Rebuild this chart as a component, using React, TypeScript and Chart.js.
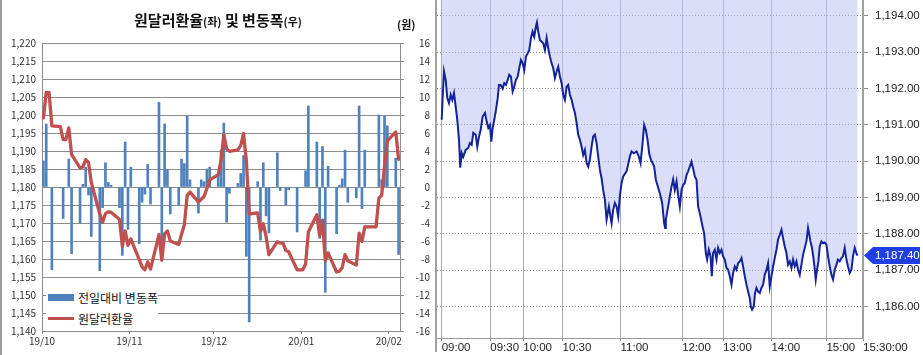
import React, { useEffect, useRef } from 'react';
import { Chart, registerables } from 'chart.js';
Chart.register(...registerables);

// ---------- left panel data (daily, weekdays incl. market holidays) ----------
const dates = [
  '2019-10-01','2019-10-02','2019-10-03','2019-10-04','2019-10-07','2019-10-08','2019-10-09','2019-10-10','2019-10-11','2019-10-14','2019-10-15','2019-10-16','2019-10-17','2019-10-18','2019-10-21','2019-10-22','2019-10-23','2019-10-24','2019-10-25','2019-10-28','2019-10-29','2019-10-30','2019-10-31',
  '2019-11-01','2019-11-04','2019-11-05','2019-11-06','2019-11-07','2019-11-08','2019-11-11','2019-11-12','2019-11-13','2019-11-14','2019-11-15','2019-11-18','2019-11-19','2019-11-20','2019-11-21','2019-11-22','2019-11-25','2019-11-26','2019-11-27','2019-11-28','2019-11-29',
  '2019-12-02','2019-12-03','2019-12-04','2019-12-05','2019-12-06','2019-12-09','2019-12-10','2019-12-11','2019-12-12','2019-12-13','2019-12-16','2019-12-17','2019-12-18','2019-12-19','2019-12-20','2019-12-23','2019-12-24','2019-12-25','2019-12-26','2019-12-27','2019-12-30','2019-12-31',
  '2020-01-01','2020-01-02','2020-01-03','2020-01-06','2020-01-07','2020-01-08','2020-01-09','2020-01-10','2020-01-13','2020-01-14','2020-01-15','2020-01-16','2020-01-17','2020-01-20','2020-01-21','2020-01-22','2020-01-23','2020-01-24','2020-01-27','2020-01-28','2020-01-29','2020-01-30','2020-01-31',
  '2020-02-03','2020-02-04',
];
const rate = [
  1199.2,1206.3,1206.3,1197.0,1196.8,1193.2,1193.2,1196.4,1189.0,1185.3,1185.6,1187.6,1186.8,1181.2,1172.5,1170.2,1172.6,1173.1,1173.0,1171.0,1163.5,1167.8,1163.8,
  1165.6,1159.8,1157.8,1157.0,1159.2,1157.2,1166.8,1159.6,1167.0,1167.8,1165.0,1164.0,1166.9,1169.5,1177.6,1178.6,1175.8,1176.6,1177.4,1179.6,1182.0,
  1183.4,1187.4,1194.5,1190.6,1189.9,1190.3,1191.5,1194.8,1187.3,1172.5,1172.8,1167.6,1169.8,1166.2,1161.2,1164.8,1164.4,1164.4,1162.4,1162.0,1157.0,1157.0,
  1157.0,1158.6,1167.5,1172.3,1166.5,1170.8,1159.5,1161.7,1156.4,1156.6,1157.6,1161.2,1159.5,1158.3,1167.2,1164.9,1168.9,1168.9,1168.9,1176.9,1177.7,1185.8,1192.8,
  1195.3,1187.7,
];
const change = [
  2.9,7.0,null,-9.2,-0.1,-3.5,null,3.1,-7.4,-4.0,0.3,2.2,-0.9,-5.5,-9.3,-2.3,2.7,0.5,0.2,-2.3,-7.6,5.0,-4.7,
  2.2,-6.3,-1.7,-0.8,2.5,-1.9,9.4,-7.9,7.0,1.9,-3.0,-2.0,3.1,2.6,7.9,0.8,-2.9,0.8,0.6,2.0,2.2,
  1.4,4.1,7.1,-3.9,-0.7,0.4,1.5,3.5,-7.7,-15.0,0.6,-5.9,2.7,-3.2,-5.1,3.8,-0.4,null,-2.0,-0.3,-5.0,null,
  null,1.8,9.0,5.0,-5.7,4.5,-11.7,2.3,-5.2,0.2,0.9,4.1,-1.7,-1.2,9.0,-2.4,4.1,null,null,8.0,0.8,7.9,6.8,
  3.2,-7.5,
];
const monthStarts = ['2019-10-01','2019-11-01','2019-12-01','2020-01-01','2020-02-01'];
const monthLabels = ['19/10','19/11','19/12','20/01','20/02'];
const rateTicks = [1140,1145,1150,1155,1160,1165,1170,1175,1180,1185,1190,1195,1200,1205,1210,1215,1220];
const changeTicks = [-16,-14,-12,-10,-8,-6,-4,-2,0,2,4,6,8,10,12,14,16];

// ---------- right panel data (intraday, x = trade sequence position) ----------
const seqNo = [
  0,1,2.3,4,5.6,7.3,9,10.6,12.3,14,15.6,17.3,18.6,20,21.6,24,26.6,28.3,30,31.6,34,35.6,37.3,39,41,43.3,45,46.6,48.3,49.6,
  51,52.6,54.3,56,57.3,59,61,62.6,64.3,66,67.6,69.3,71,72.6,74.3,76,77.6,79.3,81,82.6,84.3,86,87.6,89.3,91,92.6,94.3,95.3,96.6,98.3,
  100,101.6,103.3,105,106.6,108.3,110,111.6,113.3,115,116.6,118.3,120,121.6,123.3,125,126.6,128.3,130,131.6,133.3,135,136.6,138.3,140,141.6,143.3,145,146.6,148.3,
  150,151.6,153.3,155,156.6,158.3,160,161.6,163.3,165,167.3,170,171.6,173.3,175,176.6,178.3,180,181.6,185,188.3,190,192.3,195,197.3,199,
  201,202.6,204.3,206,207.6,209.3,211,212.6,214.3,218.3,220.6,222.6,223.6,224.3,226,228.3,230,231.6,233.3,235,236.6,238.3,240,241.6,243.3,245,246.6,248.3,
  250,251.6,253.3,255,256.6,259,261,262.6,264.3,265.6,267.3,269,270.3,271.6,273.3,275,276.6,278.3,280,281.6,283.3,285,286.6,288.3,290,291.6,293.3,295,296.6,298.3,
  300,301.6,303.3,305,306.6,308.3,309.3,310.6,312.3,313.6,315,316.6,318.3,320,321.6,323.3,325,326.6,328.3,330,331.6,333.3,335,336.6,338.3,340,341.6,343.3,345,346.6,348.3,
  350,351.6,353.3,355,356.6,358.3,360,361.6,363.3,365,366.6,367.6,369,370.3,371.6,373,374.3,375.6,377,378.3,380,381.6,383.3,385,386.6,388.3,390,391.6,393.3,395,396.6,398.3,
  400,401.6,403.3,405,406.6,408.3,410,411.6,413.3,415,416,
];
const price = [
  1191.14,1191.78,1192.47,1192.24,1191.74,1191.60,1191.83,1191.69,1191.88,1191.50,1191.14,1190.59,1189.82,1190.23,1190.12,1190.31,1190.37,1190.50,1190.45,1190.78,1190.73,1190.40,1190.67,1190.86,1191.23,1191.33,1191.09,1190.92,1191.00,1190.54,
  1190.92,1191.14,1191.41,1191.73,1192.10,1192.10,1192.00,1192.15,1192.10,1192.24,1192.38,1192.33,1191.92,1192.05,1192.24,1192.33,1192.56,1192.79,1192.70,1192.51,1192.88,1192.97,1193.06,1193.39,1193.57,1193.43,1193.71,1193.82,1193.57,1193.34,
  1193.29,1193.25,1193.06,1193.39,1193.11,1192.88,1192.70,1192.56,1192.29,1192.47,1192.60,1192.33,1192.15,1191.83,1191.69,1192.05,1192.10,1191.83,1191.69,1191.50,1191.33,1191.06,1190.73,1190.59,1190.40,1190.17,1190.31,1189.95,1189.85,1190.04,
  1190.40,1190.68,1190.73,1190.50,1190.13,1189.76,1189.53,1189.21,1188.94,1188.39,1188.75,1188.29,1188.66,1188.85,1188.75,1188.48,1189.03,1189.40,1189.58,1189.72,1190.13,1190.27,1190.22,1190.27,1190.13,1189.95,
  1190.50,1191.00,1190.86,1190.59,1190.22,1190.04,1189.95,1189.85,1189.49,1189.12,1188.85,1188.29,1188.16,1188.39,1188.66,1189.03,1189.30,1189.50,1189.21,1189.44,1189.07,1188.75,1189.21,1189.35,1189.40,1189.62,1189.72,1189.85,
  1189.99,1189.80,1189.58,1189.49,1188.75,1188.48,1188.20,1188.02,1187.47,1187.29,1187.56,1187.38,1186.83,1187.47,1187.56,1187.29,1187.61,1187.47,1187.56,1187.38,1187.29,1187.06,1187.01,1186.83,1186.60,1186.92,1187.10,1187.01,1187.19,1187.24,
  1187.33,1187.10,1186.83,1186.60,1186.41,1186.23,1186.00,1185.91,1186.00,1186.37,1186.51,1186.41,1186.37,1186.51,1186.60,1186.87,1187.01,1187.19,1186.55,1186.83,1187.10,1187.33,1187.56,1187.84,1187.97,1188.11,1187.88,1187.65,1187.47,1187.15,1187.24,
  1187.06,1187.29,1187.10,1187.24,1187.01,1186.87,1187.15,1187.42,1187.61,1187.79,1188.16,1188.02,1187.79,1187.65,1187.42,1187.10,1186.74,1187.01,1187.24,1187.65,1187.79,1187.74,1187.76,1187.70,1187.38,1187.10,1186.87,1186.74,1187.01,1187.15,1187.29,1187.24,
  1187.33,1187.38,1187.61,1187.29,1187.10,1186.92,1187.01,1187.38,1187.61,1187.47,1187.40,
];
const timeSeq = [0, 48.6, 81.6, 121, 179, 240.6, 281.6, 330, 385, 421.6];
const timeLabels = ['09:00','09:30','10:00','10:30','11:00','12:00','13:00','14:00','15:00','15:30:00'];
const priceTicks = [1186,1187,1188,1189,1190,1191,1192,1193,1194];
const priceMin = 1185.13;
const priceMax = 1194.44;
const lastPrice = 1187.40;

// ---------- helpers ----------
const DAY0 = Date.parse('2019-10-01T00:00:00Z');
const dayOf = (s: string) => (Date.parse(s + 'T00:00:00Z') - DAY0) / 86400000;
const KFONT = "'Noto Sans CJK KR', 'Noto Sans', sans-serif";
const NFONT = "'Liberation Sans', Arial, sans-serif";
const NSIZE = 11.5;
const fmtPrice = (v: number) =>
  v.toLocaleString('en-US', { minimumFractionDigits: 2, maximumFractionDigits: 2 });

function LeftChart() {
  const ref = useRef<HTMLCanvasElement>(null);
  useEffect(() => {
    const lineData = dates.map((d, i) => ({ x: dayOf(d) + 0.5, y: rate[i] }));
    const barData = dates
      .map((d, i) => ({ x: dayOf(d) + 0.5, y: change[i] }))
      .filter((p) => p.y !== null);
    const monthVals = monthStarts.map(dayOf);
    const xMax = dayOf(dates[dates.length - 1]) + 1;
    const tickFont = { family: KFONT, size: 10 };
    const chart = new Chart(ref.current as HTMLCanvasElement, {
      type: 'bar',
      data: {
        datasets: [
          {
            type: 'line',
            label: '원달러환율',
            data: lineData,
            yAxisID: 'yL',
            borderColor: '#c0504d',
            borderWidth: 3.3,
            pointRadius: 0,
            tension: 0,
            order: 0,
            borderJoinStyle: 'round',
            borderCapStyle: 'round',
          } as any,
          {
            type: 'bar',
            label: '전일대비 변동폭',
            data: barData,
            yAxisID: 'yR',
            backgroundColor: '#4f81bd',
            barThickness: 2,
            order: 1,
          } as any,
        ],
      },
      options: {
        animation: false,
        responsive: false,
        events: [],
        layout: { padding: { top: 43, left: 0, right: 0, bottom: 0 } },
        plugins: { legend: { display: false }, tooltip: { enabled: false }, title: { display: false } },
        scales: {
          x: {
            type: 'linear',
            min: 0,
            max: xMax,
            offset: false,
            afterBuildTicks: (s: any) => { s.ticks = monthVals.map((v) => ({ value: v })); },
            afterFit: (s: any) => { s.height = 24; s.paddingLeft = 0; s.paddingRight = 0; },
            ticks: {
              callback: (_v: any, i: number) => monthLabels[i],
              font: tickFont,
              color: '#333',
              padding: 1,
              maxRotation: 0,
              autoSkip: false,
            },
            grid: { offset: false, drawOnChartArea: false, drawTicks: true, tickLength: 3, tickColor: '#8c8c8c' },
            border: { color: '#8c8c8c' },
          } as any,
          yL: {
            type: 'linear',
            position: 'left',
            min: 1140,
            max: 1220,
            afterBuildTicks: (s: any) => { s.ticks = rateTicks.map((v) => ({ value: v })); },
            afterFit: (s: any) => { s.width = 42; s.paddingTop = 0; s.paddingBottom = 0; },
            ticks: {
              callback: (v: any) => Number(v).toLocaleString('en-US'),
              font: tickFont,
              color: '#333',
              padding: 6,
            },
            grid: { color: '#8c8c8c', drawTicks: false },
            border: { color: '#8c8c8c' },
          } as any,
          yR: {
            type: 'linear',
            position: 'right',
            min: -16,
            max: 16,
            afterBuildTicks: (s: any) => { s.ticks = changeTicks.map((v) => ({ value: v })); },
            afterFit: (s: any) => { s.width = 30; s.paddingTop = 0; s.paddingBottom = 0; },
            ticks: {
              callback: (v: any) => String(v),
              font: tickFont,
              color: '#333',
              padding: 2,
              crossAlign: 'far',
            },
            grid: { drawOnChartArea: false, tickLength: 4, tickColor: '#8c8c8c' },
            border: { color: '#8c8c8c' },
          } as any,
        },
      },
    });
    return () => chart.destroy();
  }, []);
  return (
    <canvas
      ref={ref}
      width={430}
      height={355}
      style={{ position: 'absolute', left: 0, top: 0, width: 430, height: 355 }}
    />
  );
}

const tagPlugin = {
  id: 'lastTag',
  afterDraw(chart: any) {
    const { ctx, chartArea, scales } = chart;
    const yp = scales.y.getPixelForValue(lastPrice);
    const tip = chartArea.right + 1;
    const bodyX = tip + 9;
    const endX = chart.width - 3;
    const h = 17;
    ctx.save();
    ctx.fillStyle = '#1f3fe4';
    ctx.beginPath();
    ctx.moveTo(tip, yp);
    ctx.lineTo(bodyX, yp - h / 2);
    ctx.lineTo(endX, yp - h / 2);
    ctx.lineTo(endX, yp + h / 2);
    ctx.lineTo(bodyX, yp + h / 2);
    ctx.closePath();
    ctx.fill();
    ctx.fillStyle = '#ffffff';
    ctx.font = `${NSIZE}px ${NFONT}`;
    ctx.textBaseline = 'middle';
    ctx.textAlign = 'left';
    ctx.fillText(fmtPrice(lastPrice), chartArea.right + 12, yp + 0.5);
    ctx.fillStyle = '#a0a0a0';
    ctx.fillRect(chartArea.left - 2, 0, 2, chart.height - 3);
    ctx.restore();
  },
};

function RightChart() {
  const ref = useRef<HTMLCanvasElement>(null);
  useEffect(() => {
    const n = Math.min(seqNo.length, price.length);
    const pts = [] as { x: number; y: number }[];
    for (let i = 0; i < n; i++) pts.push({ x: seqNo[i], y: price[i] });
    const font = { family: NFONT, size: NSIZE };
    const chart = new Chart(ref.current as HTMLCanvasElement, {
      type: 'line',
      data: {
        datasets: [
          {
            data: pts,
            borderColor: '#142399',
            borderWidth: 2,
            pointRadius: 0,
            tension: 0,
            fill: 'end',
            backgroundColor: 'rgba(190,195,242,0.55)',
          } as any,
        ],
      },
      options: {
        animation: false,
        responsive: false,
        events: [],
        layout: { padding: { left: 7, top: 0, right: 0, bottom: 0 } },
        plugins: { legend: { display: false }, tooltip: { enabled: false } },
        scales: {
          x: {
            type: 'linear',
            min: -4.7,
            max: 421.6,
            afterBuildTicks: (s: any) => { s.ticks = timeSeq.map((v) => ({ value: v })); },
            afterFit: (s: any) => { s.height = 17; s.paddingLeft = 0; s.paddingRight = 0; },
            ticks: {
              align: 'start',
              callback: (_v: any, i: number) => timeLabels[i],
              font,
              color: '#222',
              padding: 0,
              maxRotation: 0,
              autoSkip: false,
            },
            grid: { color: 'rgba(140,146,172,0.8)', lineWidth: 1, tickLength: 3, tickColor: '#8c8c8c' },
            border: { color: '#9a9a9a', width: 1 },
          } as any,
          y: {
            type: 'linear',
            position: 'right',
            min: priceMin,
            max: priceMax,
            afterBuildTicks: (s: any) => { s.ticks = priceTicks.map((v) => ({ value: v })); },
            afterFit: (s: any) => { s.width = 60; s.paddingTop = 0; s.paddingBottom = 0; },
            ticks: {
              callback: (v: any) => fmtPrice(Number(v)),
              font,
              color: '#222',
              padding: 7,
            },
            grid: { color: '#8a8a8a', tickLength: 5, tickColor: '#8c8c8c' },
            border: { color: '#a0a0a0', width: 2, dash: [1, 2] },
          } as any,
        },
      },
      plugins: [tagPlugin],
    });
    return () => chart.destroy();
  }, []);
  return (
    <canvas
      ref={ref}
      width={493}
      height={355}
      style={{ position: 'absolute', left: 430, top: 0, width: 493, height: 355 }}
    />
  );
}

export default function App() {
  return (
    <div
      style={{
        position: 'fixed',
        left: 0,
        top: 0,
        width: 923,
        height: 355,
        background: '#ffffff',
        overflow: 'hidden',
      }}
    >
      <LeftChart />
      <div style={{ position: 'absolute', left: 0, top: 0, width: 2, height: 355, background: '#9a9a9a' }} />
      <div
        style={{
          position: 'absolute',
          left: 0,
          top: 9,
          width: 436,
          textAlign: 'center',
          fontFamily: KFONT,
          fontWeight: 700,
          fontSize: 15,
          lineHeight: '22px',
          color: '#111',
          whiteSpace: 'nowrap',
        }}
      >
        원달러환율<span style={{ fontSize: 11 }}>(좌)</span> 및 변동폭<span style={{ fontSize: 11 }}>(우)</span>
      </div>
      <div
        style={{
          position: 'absolute',
          left: 397,
          top: 16,
          fontFamily: KFONT,
          fontWeight: 700,
          fontSize: 11,
          lineHeight: '16px',
          color: '#111',
        }}
      >
        (원)
      </div>
      <div
        style={{
          position: 'absolute',
          left: 46,
          top: 287,
          width: 112,
          height: 42,
          background: '#ffffff',
          fontFamily: KFONT,
          fontSize: 12,
          color: '#111',
        }}
      >
        <div style={{ display: 'flex', alignItems: 'center', height: 21, paddingLeft: 2 }}>
          <span style={{ display: 'inline-block', width: 26, height: 7, background: '#4f81bd', marginRight: 4 }} />
          전일대비 변동폭
        </div>
        <div style={{ display: 'flex', alignItems: 'center', height: 21, paddingLeft: 2 }}>
          <span style={{ display: 'inline-block', width: 26, height: 3, background: '#c0504d', marginRight: 4 }} />
          원달러환율
        </div>
      </div>
      <RightChart />
    </div>
  );
}
